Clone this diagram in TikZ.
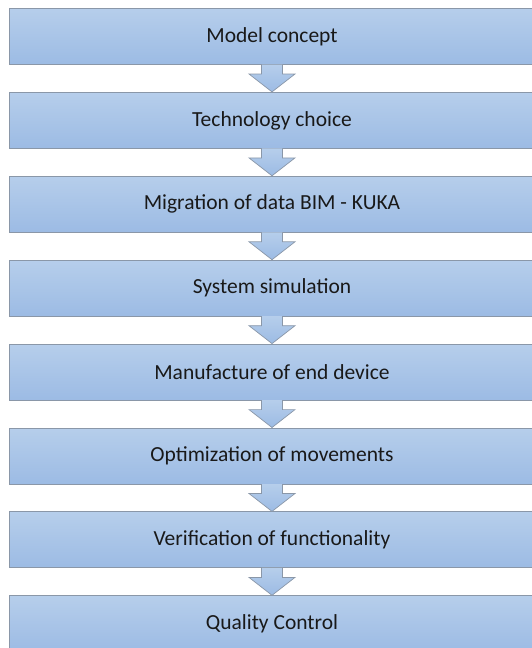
\documentclass[tikz,border=0pt]{standalone}
\usepackage{fontspec}
\setmainfont{Carlito}
\usetikzlibrary{calc}
\definecolor{boxtop}{HTML}{B6CEEB}
\definecolor{boxbot}{HTML}{9CBBE4}
\definecolor{edgegray}{HTML}{8A97A8}
\tikzset{
  stepbox/.style={draw=edgegray, line width=1pt, top color=boxtop, bottom color=boxbot,
    minimum width=526pt, minimum height=56pt, inner sep=0pt,
    font=\fontsize{21.5}{24}\selectfont, text=black!90},
  flowarrow/.style={draw=edgegray, line width=0.7pt, top color=boxtop, bottom color=boxbot}
}
\begin{document}
\begin{tikzpicture}[x=1pt,y=1pt]
\useasboundingbox (0,0) rectangle (532,-648);
\foreach \i/\t in {0/Model concept,1/Technology choice,2/Migration of data BIM - KUKA,3/System simulation,4/Manufacture of end device,5/Optimization of movements,6/Verification of functionality,7/Quality Control}{
  \node[stepbox] (b\i) at (272,{-(8.5+28+83.9*\i)}) {\t};
}
\foreach \i in {0,...,6}{
  \pgfmathtruncatemacro\j{\i+1}
  \path[flowarrow] ($(b\i.south)+(-10.5,0.5)$) -- ($(b\i.south)+(-10.5,-9)$) -- ($(b\i.south)+(-23,-9)$) -- (b\j.north) -- ($(b\i.south)+(23,-9)$) -- ($(b\i.south)+(10.5,-9)$) -- ($(b\i.south)+(10.5,0.5)$);
}
\end{tikzpicture}
\end{document}
